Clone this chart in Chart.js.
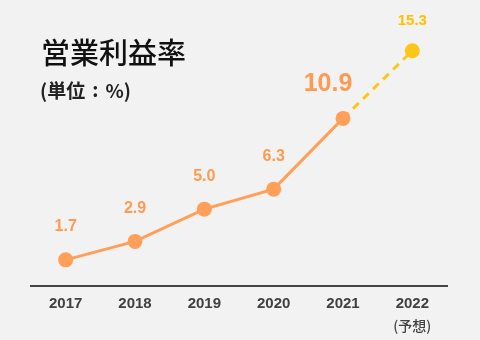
<!DOCTYPE html>
<html><head><meta charset="utf-8">
<script src="https://cdn.jsdelivr.net/npm/chart.js@4/dist/chart.umd.min.js"></script>
<style>
html,body{margin:0;padding:0;background:#f2f2f2;}
#wrap{position:relative;width:480px;height:340px;}
#title{position:absolute;left:41px;top:37px;font-family:"Noto Sans CJK JP";font-size:29px;line-height:29px;color:#111;font-weight:500;white-space:nowrap;}
#unit{position:absolute;left:40px;top:79px;font-family:"Noto Sans CJK JP";font-size:19px;line-height:22px;color:#222;font-weight:700;white-space:nowrap;}
#unit .c{display:inline-block;margin:0 7px;position:relative;top:-1px;}
canvas{position:absolute;left:0;top:0;}
</style></head>
<body><div id="wrap"><canvas id="c" width="480" height="340"></canvas>
<div id="title">営業利益率</div><div id="unit">(単位<span class="c">:</span>%)</div></div>
<script>
const years = ['2017','2018','2019','2020','2021','2022'];
const subLabels = ['','','','','','(予想)'];
const actual = [1.7, 2.9, 5.0, 6.3, 10.9, null];
const forecast = [null, null, null, null, 10.9, 15.3];
const valueLabels = ['1.7','2.9','5.0','6.3','10.9','15.3'];

const ORANGE = '#ff9f5a', YELLOW = '#ffc61a';

const labelPlugin = {
  id:'vlabels',
  afterDatasetsDraw(chart){
    const ctx = chart.ctx;
    const m0 = chart.getDatasetMeta(0), m1 = chart.getDatasetMeta(1);
    ctx.save();
    ctx.textAlign='center'; ctx.textBaseline='middle';
    for (let i=0;i<years.length;i++){
      let el, color, font, dx=0, dy=-33;
      if (actual[i]!==null){ el=m0.data[i]; color='#ff9a50'; font='bold 16px "Liberation Sans"'; }
      else { el=m1.data[i]; color='#ffc000'; font='bold 15px "Liberation Sans"'; dy=-30; }
      if (i===4){ font='bold 25px "Liberation Sans"'; dx=-15; dy=-34; }
      ctx.fillStyle=color; ctx.font=font;
      ctx.fillText(valueLabels[i], el.x+dx, el.y+dy);
    }
    const xs = chart.scales.x;
    ctx.fillStyle='#404040'; ctx.font='500 14px "Noto Sans CJK JP"';
    for (let i=0;i<subLabels.length;i++){
      if (subLabels[i]) ctx.fillText(subLabels[i], xs.getPixelForValue(i), 326);
    }
    ctx.restore();
  }
};

new Chart(document.getElementById('c'), {
  type:'line',
  data:{ labels: years, datasets:[
    { data: actual, borderColor: ORANGE, backgroundColor: ORANGE, borderWidth:3,
      pointRadius:7.5, pointHoverRadius:7.5, pointBackgroundColor:ORANGE, pointBorderWidth:0, tension:0, order:0 },
    { data: forecast, borderColor: YELLOW, backgroundColor: YELLOW, borderWidth:3, borderDash:[8,6],
      pointRadius:[0,0,0,0,0,7.5], pointBackgroundColor:YELLOW, pointBorderWidth:0, tension:0, order:1 }
  ]},
  options:{
    responsive:false, animation:false, events:[],
    layout:{ padding:{ left:31, right:33, top:40, bottom:0 } },
    plugins:{ legend:{display:false}, tooltip:{enabled:false} },
    scales:{
      x:{ offset:true, grid:{display:false, drawTicks:false},
          border:{display:true, color:'#444', width:2},
          ticks:{ color:'#404040', font:{family:'"Liberation Sans"', size:15, weight:'bold'}, padding:9, maxRotation:0 },
          afterFit(s){ s.height = 54; } },
      y:{ display:false, min:0, max:16 }
    }
  },
  plugins:[labelPlugin]
});
</script></body></html>
